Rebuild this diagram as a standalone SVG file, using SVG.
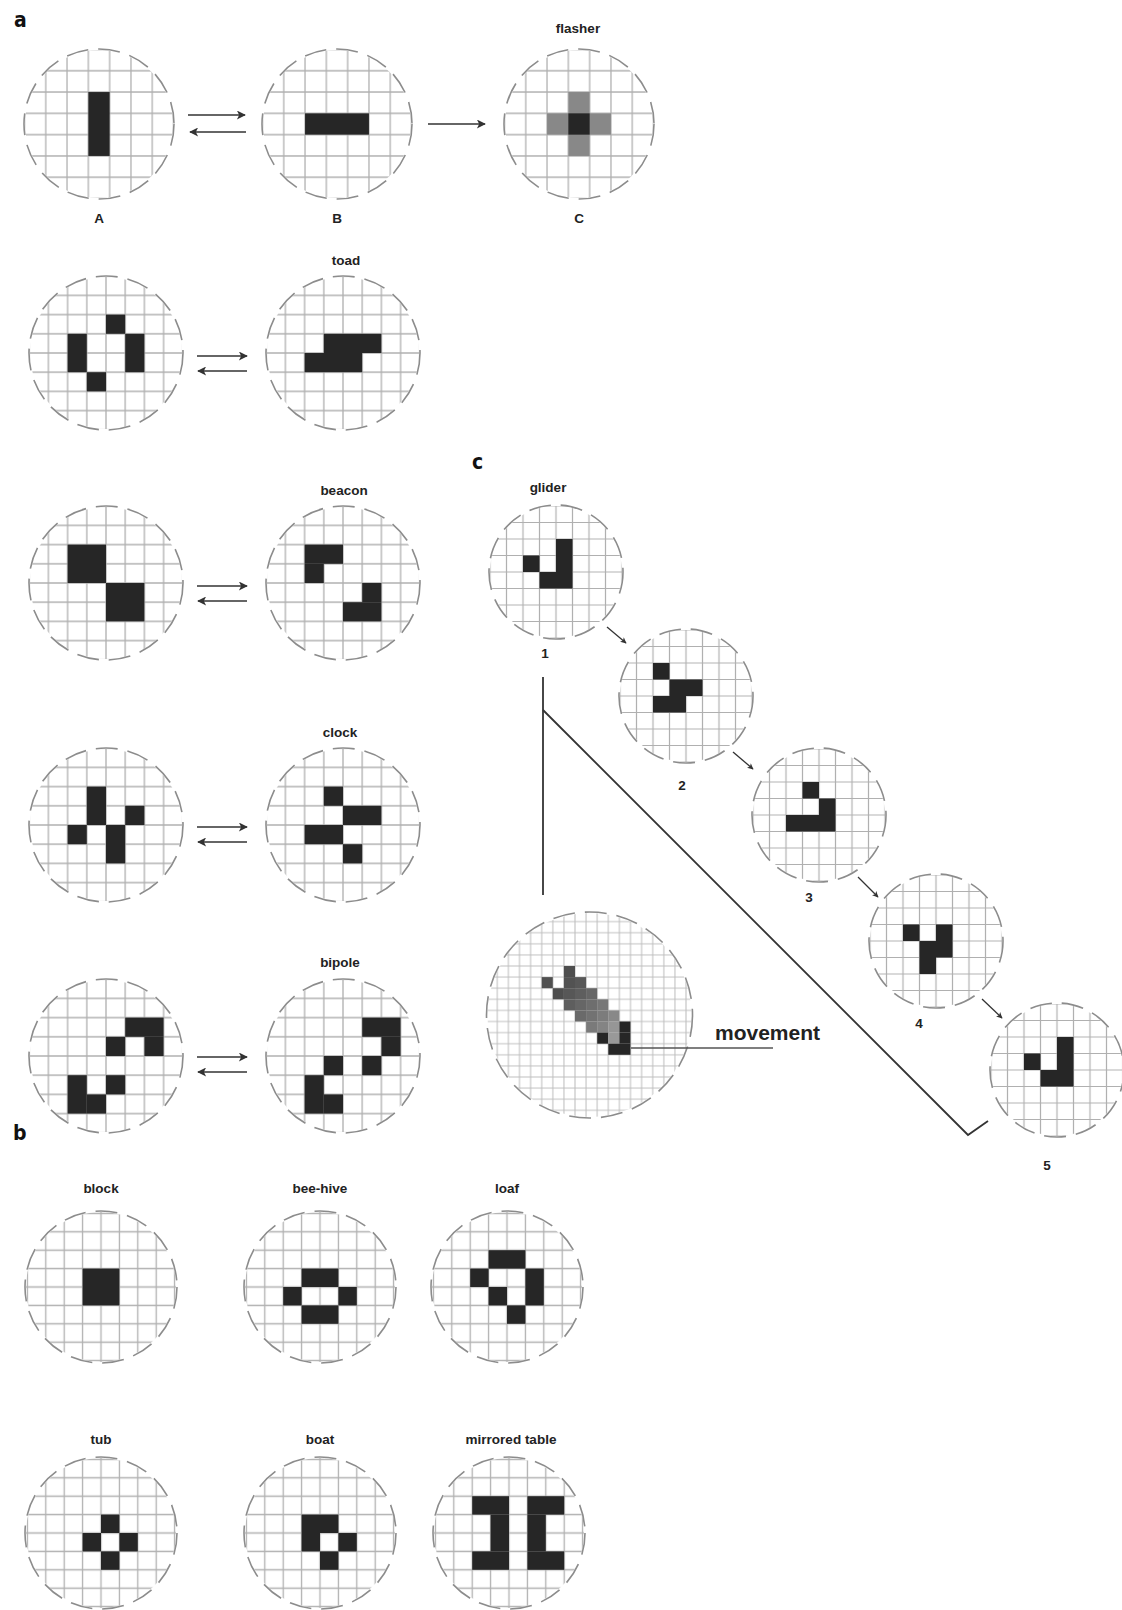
<svg xmlns="http://www.w3.org/2000/svg" width="1122" height="1610" viewBox="0 0 1122 1610">
<style>
.lbl{font-family:"Liberation Sans",Arial,sans-serif;font-weight:bold;font-size:13.5px;fill:#222;text-anchor:middle}
.panel{font-family:"DejaVu Sans Condensed","DejaVu Sans",sans-serif;font-weight:bold;font-size:21px;fill:#111}
.mv{font-family:"Liberation Sans",Arial,sans-serif;font-weight:bold;font-size:21px;fill:#222}
.ring{fill:none;stroke:#8c8c8c;stroke-width:1.6;stroke-dasharray:22 10}
.on{fill:#262626}
.arr{stroke:#333;stroke-width:1.6;fill:none;marker-end:url(#ah)}
.sarr{stroke:#333;stroke-width:1.3;fill:none;marker-end:url(#ahs)}
.ln{stroke:#333;stroke-width:1.8;fill:none}
</style>
<defs>
<marker id="ah" viewBox="0 0 10 10" refX="9" refY="5" markerWidth="11" markerHeight="9" markerUnits="userSpaceOnUse" orient="auto"><path d="M0,0 L10,5 L0,10 L2.5,5 z" fill="#333"/></marker>
<marker id="ahs" viewBox="0 0 10 10" refX="9" refY="5" markerWidth="7" markerHeight="6" markerUnits="userSpaceOnUse" orient="auto"><path d="M0,0 L10,5 L0,10 L2.5,5 z" fill="#333"/></marker>
<pattern id="g21" patternUnits="userSpaceOnUse" x="0" y="0" width="21.3" height="21.3"><path d="M10.65 0V21.3M0 10.65H21.3" stroke="#b0b0b0" stroke-width="1.3"/></pattern>
<pattern id="g19" patternUnits="userSpaceOnUse" x="-9.6" y="-9.6" width="19.2" height="19.2"><path d="M9.6 0V19.2M0 9.6H19.2" stroke="#b0b0b0" stroke-width="1.3"/></pattern>
<pattern id="g16" patternUnits="userSpaceOnUse" x="-8.25" y="-8.25" width="16.5" height="16.5"><path d="M8.25 0V16.5M0 8.25H16.5" stroke="#b0b0b0" stroke-width="1.2"/></pattern>
<pattern id="g18" patternUnits="userSpaceOnUse" x="-9.2" y="-9.2" width="18.4" height="18.4"><path d="M9.2 0V18.4M0 9.2H18.4" stroke="#b0b0b0" stroke-width="1.3"/></pattern>
<pattern id="g11" patternUnits="userSpaceOnUse" x="-8.95" y="-10.15" width="11.1" height="11.1"><path d="M5.55 0V11.1M0 5.55H11.1" stroke="#bdbdbd" stroke-width="1"/></pattern>
<clipPath id="c75"><circle r="74"/></clipPath>
<clipPath id="c77"><circle r="76"/></clipPath>
<clipPath id="c67"><circle r="66"/></clipPath>
<clipPath id="c76"><circle r="75"/></clipPath>
<clipPath id="c103"><circle r="102"/></clipPath>
</defs>
<rect width="1122" height="1610" fill="#fff"/>

<text class="panel" x="14" y="27">a</text>
<text class="panel" x="472" y="469">c</text>
<text class="panel" x="13" y="1140">b</text>

<!-- section a row 1 -->
<g id="nodeA" transform="translate(99,124)">
<rect x="-80" y="-80" width="160" height="160" fill="url(#g21)" clip-path="url(#c75)"/>
<rect class="on" x="-10.65" y="-31.95" width="21.3" height="63.9"/>
<circle class="ring" r="75"/>
<text class="lbl" x="0" y="99">A</text>
</g>
<g id="nodeB" transform="translate(337,124)">
<rect x="-80" y="-80" width="160" height="160" fill="url(#g21)" clip-path="url(#c75)"/>
<rect class="on" x="-31.95" y="-10.65" width="63.9" height="21.3"/>
<circle class="ring" r="75"/>
<text class="lbl" x="0" y="99">B</text>
</g>
<g id="nodeC" transform="translate(579,124)">
<rect x="-80" y="-80" width="160" height="160" fill="url(#g21)" clip-path="url(#c75)"/>
<rect fill="#888" x="-10.65" y="-31.95" width="21.3" height="63.9"/>
<rect fill="#888" x="-31.95" y="-10.65" width="63.9" height="21.3"/>
<rect class="on" x="-10.65" y="-10.65" width="21.3" height="21.3"/>
<circle class="ring" r="75"/>
<text class="lbl" x="-1" y="-91">flasher</text>
<text class="lbl" x="0" y="99">C</text>
</g>

<!-- toad -->
<g id="toad1" transform="translate(106,353)">
<rect x="-80" y="-80" width="160" height="160" fill="url(#g19)" clip-path="url(#c77)"/>
<rect class="on" x="-38.4" y="-19.2" width="19.2" height="38.4"/>
<rect class="on" x="0" y="-38.4" width="19.2" height="19.2"/>
<rect class="on" x="19.2" y="-19.2" width="19.2" height="38.4"/>
<rect class="on" x="-19.2" y="19.2" width="19.2" height="19.2"/>
<circle class="ring" r="77"/>
</g>
<g id="toad2" transform="translate(343,353)">
<rect x="-80" y="-80" width="160" height="160" fill="url(#g19)" clip-path="url(#c77)"/>
<rect class="on" x="-19.2" y="-19.2" width="57.6" height="19.2"/>
<rect class="on" x="-38.4" y="0" width="57.6" height="19.2"/>
<circle class="ring" r="77"/>
<text class="lbl" x="3" y="-88">toad</text>
</g>

<!-- beacon -->
<g id="beacon1" transform="translate(106,583)">
<rect x="-80" y="-80" width="160" height="160" fill="url(#g19)" clip-path="url(#c77)"/>
<rect class="on" x="-38.4" y="-38.4" width="38.4" height="38.4"/>
<rect class="on" x="0" y="0" width="38.4" height="38.4"/>
<circle class="ring" r="77"/>
</g>
<g id="beacon2" transform="translate(343,583)">
<rect x="-80" y="-80" width="160" height="160" fill="url(#g19)" clip-path="url(#c77)"/>
<rect class="on" x="-38.4" y="-38.4" width="38.4" height="19.2"/>
<rect class="on" x="-38.4" y="-19.2" width="19.2" height="19.2"/>
<rect class="on" x="19.2" y="0" width="19.2" height="19.2"/>
<rect class="on" x="0" y="19.2" width="38.4" height="19.2"/>
<circle class="ring" r="77"/>
<text class="lbl" x="1" y="-88">beacon</text>
</g>

<!-- clock -->
<g id="clock1" transform="translate(106,825)">
<rect x="-80" y="-80" width="160" height="160" fill="url(#g19)" clip-path="url(#c77)"/>
<rect class="on" x="-19.2" y="-38.4" width="19.2" height="38.4"/>
<rect class="on" x="19.2" y="-19.2" width="19.2" height="19.2"/>
<rect class="on" x="-38.4" y="0" width="19.2" height="19.2"/>
<rect class="on" x="0" y="0" width="19.2" height="38.4"/>
<circle class="ring" r="77"/>
</g>
<g id="clock2" transform="translate(343,825)">
<rect x="-80" y="-80" width="160" height="160" fill="url(#g19)" clip-path="url(#c77)"/>
<rect class="on" x="-19.2" y="-38.4" width="19.2" height="19.2"/>
<rect class="on" x="0" y="-19.2" width="38.4" height="19.2"/>
<rect class="on" x="-38.4" y="0" width="38.4" height="19.2"/>
<rect class="on" x="0" y="19.2" width="19.2" height="19.2"/>
<circle class="ring" r="77"/>
<text class="lbl" x="-3" y="-88">clock</text>
</g>

<!-- bipole -->
<g id="bipole1" transform="translate(106,1056)">
<rect x="-80" y="-80" width="160" height="160" fill="url(#g19)" clip-path="url(#c77)"/>
<rect class="on" x="19.2" y="-38.4" width="38.4" height="19.2"/>
<rect class="on" x="38.4" y="-19.2" width="19.2" height="19.2"/>
<rect class="on" x="0" y="-19.2" width="19.2" height="19.2"/>
<rect class="on" x="-38.4" y="19.2" width="19.2" height="38.4"/>
<rect class="on" x="0" y="19.2" width="19.2" height="19.2"/>
<rect class="on" x="-19.2" y="38.4" width="19.2" height="19.2"/>
<circle class="ring" r="77"/>
</g>
<g id="bipole2" transform="translate(343,1056)">
<rect x="-80" y="-80" width="160" height="160" fill="url(#g19)" clip-path="url(#c77)"/>
<rect class="on" x="19.2" y="-38.4" width="38.4" height="19.2"/>
<rect class="on" x="38.4" y="-19.2" width="19.2" height="19.2"/>
<rect class="on" x="19.2" y="0" width="19.2" height="19.2"/>
<rect class="on" x="-19.2" y="0" width="19.2" height="19.2"/>
<rect class="on" x="-38.4" y="19.2" width="19.2" height="38.4"/>
<rect class="on" x="-19.2" y="38.4" width="19.2" height="19.2"/>
<circle class="ring" r="77"/>
<text class="lbl" x="-3" y="-89">bipole</text>
</g>

<!-- glider sequence -->
<g id="glider1" transform="translate(556,572)">
<rect x="-70" y="-70" width="140" height="140" fill="url(#g16)" clip-path="url(#c67)"/>
<rect class="on" x="-33" y="-16.5" width="16.5" height="16.5"/>
<rect class="on" x="-16.5" y="0" width="33" height="16.5"/>
<rect class="on" x="0" y="-33" width="16.5" height="33"/>
<circle class="ring" r="67"/>
<text class="lbl" x="-8" y="-80">glider</text>
<text class="lbl" x="-11" y="86">1</text>
</g>
<g id="glider2" transform="translate(686,696)">
<rect x="-70" y="-70" width="140" height="140" fill="url(#g16)" clip-path="url(#c67)"/>
<rect class="on" x="-33" y="-33" width="16.5" height="16.5"/>
<rect class="on" x="-16.5" y="-16.5" width="33" height="16.5"/>
<rect class="on" x="-33" y="0" width="33" height="16.5"/>
<circle class="ring" r="67"/>
<text class="lbl" x="-4" y="94">2</text>
</g>
<g id="glider3" transform="translate(819,815)">
<rect x="-70" y="-70" width="140" height="140" fill="url(#g16)" clip-path="url(#c67)"/>
<rect class="on" x="-16.5" y="-33" width="16.5" height="16.5"/>
<rect class="on" x="0" y="-16.5" width="16.5" height="16.5"/>
<rect class="on" x="-33" y="0" width="49.5" height="16.5"/>
<circle class="ring" r="67"/>
<text class="lbl" x="-10" y="87">3</text>
</g>
<g id="glider4" transform="translate(936,941)">
<rect x="-70" y="-70" width="140" height="140" fill="url(#g16)" clip-path="url(#c67)"/>
<rect class="on" x="-33" y="-16.5" width="16.5" height="16.5"/>
<rect class="on" x="0" y="-16.5" width="16.5" height="33"/>
<rect class="on" x="-16.5" y="0" width="16.5" height="33"/>
<circle class="ring" r="67"/>
<text class="lbl" x="-17" y="87">4</text>
</g>
<g id="glider5" transform="translate(1057,1070)">
<rect x="-70" y="-70" width="140" height="140" fill="url(#g16)" clip-path="url(#c67)"/>
<rect class="on" x="-33" y="-16.5" width="16.5" height="16.5"/>
<rect class="on" x="-16.5" y="0" width="33" height="16.5"/>
<rect class="on" x="0" y="-33" width="16.5" height="33"/>
<circle class="ring" r="67"/>
<text class="lbl" x="-10" y="100">5</text>
</g>

<!-- movement -->
<g id="movement" transform="translate(589.5,1015)">
<rect x="-110" y="-110" width="220" height="220" fill="url(#g11)" clip-path="url(#c103)"/>
<rect fill="#4e4e4e" x="-25.6" y="-49" width="11.1" height="11.1"/>
<rect fill="#505050" x="-47.8" y="-37.9" width="11.1" height="11.1"/>
<rect fill="#525252" x="-25.6" y="-37.9" width="11.1" height="11.1"/>
<rect fill="#585858" x="-14.5" y="-37.9" width="11.1" height="11.1"/>
<rect fill="#4e4e4e" x="-36.7" y="-26.8" width="11.1" height="11.1"/>
<rect fill="#575757" x="-25.6" y="-26.8" width="11.1" height="11.1"/>
<rect fill="#5e5e5e" x="-14.5" y="-26.8" width="11.1" height="11.1"/>
<rect fill="#666" x="-3.4" y="-26.8" width="11.1" height="11.1"/>
<rect fill="#5e5e5e" x="-25.6" y="-15.7" width="11.1" height="11.1"/>
<rect fill="#666" x="-14.5" y="-15.7" width="11.1" height="11.1"/>
<rect fill="#6e6e6e" x="-3.4" y="-15.7" width="11.1" height="11.1"/>
<rect fill="#777" x="7.7" y="-15.7" width="11.1" height="11.1"/>
<rect fill="#6a6a6a" x="-14.5" y="-4.6" width="11.1" height="11.1"/>
<rect fill="#727272" x="-3.4" y="-4.6" width="11.1" height="11.1"/>
<rect fill="#7c7c7c" x="7.7" y="-4.6" width="11.1" height="11.1"/>
<rect fill="#888" x="18.8" y="-4.6" width="11.1" height="11.1"/>
<rect fill="#7a7a7a" x="-3.4" y="6.5" width="11.1" height="11.1"/>
<rect fill="#848484" x="7.7" y="6.5" width="11.1" height="11.1"/>
<rect fill="#969696" x="18.8" y="6.5" width="11.1" height="11.1"/>
<rect class="on" x="29.9" y="6.5" width="11.1" height="11.1"/>
<rect class="on" x="7.7" y="17.6" width="11.1" height="11.1"/>
<rect fill="#999" x="18.8" y="17.6" width="11.1" height="11.1"/>
<rect class="on" x="29.9" y="17.6" width="11.1" height="11.1"/>
<rect class="on" x="18.8" y="28.7" width="22.2" height="11.1"/>
<circle class="ring" r="103"/>
</g>
<text class="mv" x="715" y="1040">movement</text>

<g id="connectors">
<path class="arr" d="M188 115H245"/>
<path class="arr" d="M246 132H190"/>
<path class="arr" d="M428 124H485"/>
<path class="arr" d="M197 356H247"/>
<path class="arr" d="M247 371H198"/>
<path class="arr" d="M197 586H247"/>
<path class="arr" d="M247 601H198"/>
<path class="arr" d="M197 827H247"/>
<path class="arr" d="M247 842H198"/>
<path class="arr" d="M197 1057H247"/>
<path class="arr" d="M247 1072H198"/>
<path class="sarr" d="M607 627L626 643"/>
<path class="sarr" d="M733 752L753 769"/>
<path class="sarr" d="M858 877L878 897"/>
<path class="sarr" d="M982 999L1002 1018"/>
<path class="ln" d="M543 677V895"/>
<path class="ln" d="M543 710L968 1135L988 1121"/>
<path d="M631 1048H773" stroke="#555" stroke-width="1.5" fill="none"/>
</g>

<!-- section b -->
<g id="block" transform="translate(101,1287)">
<rect x="-80" y="-80" width="160" height="160" fill="url(#g18)" clip-path="url(#c76)"/>
<rect class="on" x="-18.4" y="-18.4" width="36.8" height="36.8"/>
<circle class="ring" r="76"/>
<text class="lbl" x="0" y="-94">block</text>
</g>
<g id="beehive" transform="translate(320,1287)">
<rect x="-80" y="-80" width="160" height="160" fill="url(#g18)" clip-path="url(#c76)"/>
<rect class="on" x="-18.4" y="-18.4" width="36.8" height="18.4"/>
<rect class="on" x="-36.8" y="0" width="18.4" height="18.4"/>
<rect class="on" x="18.4" y="0" width="18.4" height="18.4"/>
<rect class="on" x="-18.4" y="18.4" width="36.8" height="18.4"/>
<circle class="ring" r="76"/>
<text class="lbl" x="0" y="-94">bee-hive</text>
</g>
<g id="loaf" transform="translate(507,1287)">
<rect x="-80" y="-80" width="160" height="160" fill="url(#g18)" clip-path="url(#c76)"/>
<rect class="on" x="-18.4" y="-36.8" width="36.8" height="18.4"/>
<rect class="on" x="-36.8" y="-18.4" width="18.4" height="18.4"/>
<rect class="on" x="18.4" y="-18.4" width="18.4" height="36.8"/>
<rect class="on" x="-18.4" y="0" width="18.4" height="18.4"/>
<rect class="on" x="0" y="18.4" width="18.4" height="18.4"/>
<circle class="ring" r="76"/>
<text class="lbl" x="0" y="-94">loaf</text>
</g>
<g id="tub" transform="translate(101,1533)">
<rect x="-80" y="-80" width="160" height="160" fill="url(#g18)" clip-path="url(#c76)"/>
<rect class="on" x="0" y="-18.4" width="18.4" height="18.4"/>
<rect class="on" x="-18.4" y="0" width="18.4" height="18.4"/>
<rect class="on" x="18.4" y="0" width="18.4" height="18.4"/>
<rect class="on" x="0" y="18.4" width="18.4" height="18.4"/>
<circle class="ring" r="76"/>
<text class="lbl" x="0" y="-89">tub</text>
</g>
<g id="boat" transform="translate(320,1533)">
<rect x="-80" y="-80" width="160" height="160" fill="url(#g18)" clip-path="url(#c76)"/>
<rect class="on" x="-18.4" y="-18.4" width="36.8" height="18.4"/>
<rect class="on" x="-18.4" y="0" width="18.4" height="18.4"/>
<rect class="on" x="18.4" y="0" width="18.4" height="18.4"/>
<rect class="on" x="0" y="18.4" width="18.4" height="18.4"/>
<circle class="ring" r="76"/>
<text class="lbl" x="0" y="-89">boat</text>
</g>
<g id="mirroredtable" transform="translate(509,1533)">
<rect x="-80" y="-80" width="160" height="160" fill="url(#g18)" clip-path="url(#c76)"/>
<rect class="on" x="-36.8" y="-36.8" width="36.8" height="18.4"/>
<rect class="on" x="-18.4" y="-18.4" width="18.4" height="36.8"/>
<rect class="on" x="-36.8" y="18.4" width="36.8" height="18.4"/>
<rect class="on" x="18.4" y="-36.8" width="36.8" height="18.4"/>
<rect class="on" x="18.4" y="-18.4" width="18.4" height="36.8"/>
<rect class="on" x="18.4" y="18.4" width="36.8" height="18.4"/>
<circle class="ring" r="76"/>
<text class="lbl" x="2" y="-89">mirrored table</text>
</g>
</svg>
